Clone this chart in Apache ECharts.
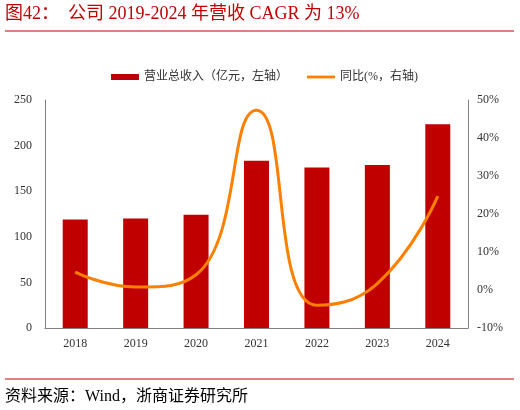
<!DOCTYPE html>
<html style="height: 100%">
<head>
    <meta charset="utf-8">
</head>
<body style="height: 100%; margin: 0; background: #fff">
<div id="container" style="width: 520px; height: 410px"></div>
<script type="text/javascript" src="https://cdn.jsdelivr.net/npm/echarts@6/dist/echarts.min.js"></script>
<script type="text/javascript">
    // 数据
    var years = ['2018', '2019', '2020', '2021', '2022', '2023', '2024'];
    var revenue = [118.9, 120.0, 124.3, 183.5, 175.9, 178.8, 223.4];   // 营业总收入（亿元）
    var yoy = [4.7, 0.8, 4.0, 47.3, -4.0, 1.7, 24.7];                   // 同比 %
    var leftTicks = [0, 250, 50];
    var rightTicks = [-10, 50, 10];

    var serif = "'Liberation Serif', 'Times New Roman', 'Noto Sans CJK SC', serif";
    var red = '#C00000';

    var dom = document.getElementById("container");
    var myChart = echarts.init(dom);
    var option = {
        backgroundColor: '#fff',
        animation: false,
        textStyle: { fontFamily: serif },
        graphic: [
            {
                type: 'text', left: 5, top: 5,
                style: { text: '图42：', fill: red, font: '18px ' + serif }
            },
            {
                type: 'text', left: 68, top: 5,
                style: { text: '公司 2019-2024 年营收 CAGR 为 13%', fill: red, font: '18px ' + serif }
            },
            {
                type: 'line',
                shape: { x1: 5, y1: 31, x2: 514, y2: 31 },
                style: { stroke: red, lineWidth: 1 }
            },
            {
                type: 'line',
                shape: { x1: 5, y1: 379, x2: 514, y2: 379 },
                style: { stroke: red, lineWidth: 1 }
            },
            {
                type: 'text', left: 5, top: 389,
                style: { text: '资料来源：Wind，浙商证券研究所', fill: '#000', font: '16px ' + serif }
            }
        ],
        legend: {
            left: 106,
            top: 66,
            itemWidth: 28,
            itemHeight: 6,
            itemGap: 19,
            textStyle: { fontSize: 12, color: '#333', fontFamily: serif },
            data: [
                { name: '营业总收入（亿元，左轴）', icon: 'rect' },
                { name: '同比(%，右轴)', icon: 'path://M0,0L0,0M0,6L0,6M0,1.6H28V4.4H0Z' }
            ]
        },
        grid: {
            left: 45,
            right: 52,
            top: 100,
            bottom: 82
        },
        xAxis: {
            type: 'category',
            data: years,
            axisLine: { lineStyle: { color: '#808080', width: 1 } },
            axisTick: { inside: true, length: 4, lineStyle: { color: '#808080' } },
            axisLabel: { color: '#333', fontSize: 12, margin: 10, fontFamily: serif }
        },
        yAxis: [
            {
                type: 'value',
                min: leftTicks[0],
                max: leftTicks[1],
                interval: leftTicks[2],
                axisLine: { show: true, lineStyle: { color: '#808080' } },
                axisTick: { show: false },
                splitLine: { show: false },
                axisLabel: { color: '#333', fontSize: 12, margin: 13, fontFamily: serif }
            },
            {
                type: 'value',
                min: rightTicks[0],
                max: rightTicks[1],
                interval: rightTicks[2],
                axisLine: { show: true, lineStyle: { color: '#808080' } },
                axisTick: { show: false },
                splitLine: { show: false },
                axisLabel: { color: '#333', fontSize: 12, margin: 9, formatter: '{value}%', fontFamily: serif }
            }
        ],
        series: [
            {
                name: '营业总收入（亿元，左轴）',
                type: 'bar',
                data: revenue,
                barWidth: 25,
                itemStyle: { color: red }
            },
            {
                name: '同比(%，右轴)',
                type: 'line',
                yAxisIndex: 1,
                data: yoy,
                smooth: 0.5,
                symbol: 'none',
                lineStyle: { color: '#FF8000', width: 3 },
                itemStyle: { color: '#FF8000' }
            }
        ]
    };
    if (option && typeof option === "object") {
        myChart.setOption(option, true);
    }
</script>
</body>
</html>
